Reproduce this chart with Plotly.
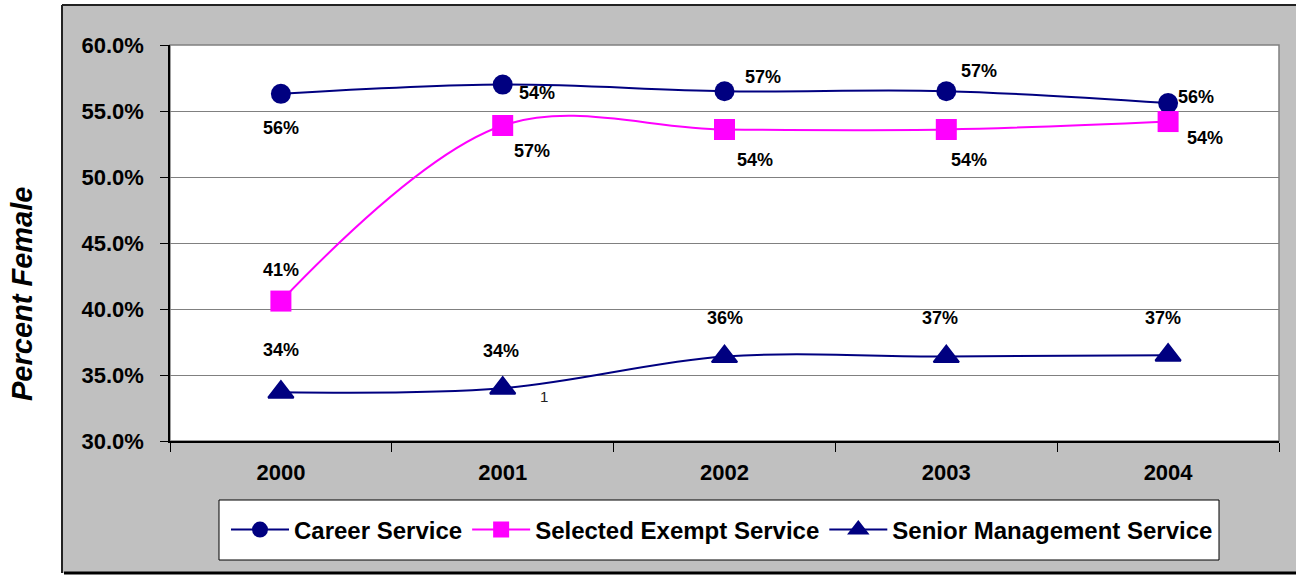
import plotly.graph_objects as go

# ---- data ----
years = ["2000", "2001", "2002", "2003", "2004"]
career = [56.3, 57.0, 56.5, 56.5, 55.6]
exempt = [40.6, 53.9, 53.6, 53.6, 54.2]
senior = [33.7, 34.0, 36.4, 36.4, 36.5]
career_labels = ["56%", "54%", "57%", "57%", "56%"]
exempt_labels = ["41%", "57%", "54%", "54%", "54%"]
senior_labels = ["34%", "34%", "36%", "37%", "37%"]
series_names = ["Career Service", "Selected Exempt Service", "Senior Management Service"]
y_ticks = [30, 35, 40, 45, 50, 55, 60]
y_ticktext = ["30.0%", "35.0%", "40.0%", "45.0%", "50.0%", "55.0%", "60.0%"]

# ---- label offsets (px, right / down) ----
career_off = [(0, 34), (34, 8), (38, -14), (33, -20), (28, -6)]
exempt_off = [(0, -31), (29, 25), (30, 31), (23, 31), (37, 16)]
senior_off = [(0, -42), (-2, -37), (0, -39), (-6, -39), (-5, -37)]

FONT = "Liberation Sans, Arial, sans-serif"
NAVY = "#000080"
MAGENTA = "#FF00FF"

W, H = 1296, 575
L, R, T, B = 170, 17, 45, 134
PW = W - L - R
PH = H - T - B


def px(x):
    return (x - L) / PW


def py(y):
    return (H - B - y) / PH


fig = go.Figure()
series = [
    (series_names[0], career, NAVY, "circle", 20, 0),
    (series_names[1], exempt, MAGENTA, "square", 21, 0),
    (series_names[2], senior, NAVY, "triangle-up", 22, 2),
]
for name, vals, col, sym, sz, lw in series:
    fig.add_trace(go.Scatter(
        x=years, y=vals, name=name, mode="lines+markers",
        line=dict(color=col, width=2, shape="spline", smoothing=1),
        marker=dict(color=col, symbol=sym, size=sz, line=dict(width=lw, color=col)),
        hoverinfo="skip",
    ))

annotations = []
for vals, labels, offs in [(career, career_labels, career_off),
                           (exempt, exempt_labels, exempt_off),
                           (senior, senior_labels, senior_off)]:
    for i, (v, lab, (dx, dy)) in enumerate(zip(vals, labels, offs)):
        annotations.append(dict(
            x=i, y=v, xref="x", yref="y", text=lab, showarrow=False,
            xshift=dx, yshift=-dy, xanchor="center", yanchor="middle",
            font=dict(family=FONT, size=18, color="black", weight="bold"),
        ))
# stray label near 2001 senior point
annotations.append(dict(
    x=1, y=senior[1], xref="x", yref="y", text="1", showarrow=False,
    xshift=41, yshift=-8, xanchor="center", yanchor="middle",
    font=dict(family=FONT, size=15, color="#222"),
))
# y-axis title
annotations.append(dict(
    x=px(22), y=py(294), xref="paper", yref="paper", text="Percent Female",
    showarrow=False, textangle=-90, xanchor="center", yanchor="middle",
    font=dict(family=FONT, size=29, color="black", weight="bold", style="italic"),
))

shapes = [
    # gray chart area
    dict(type="rect", xref="paper", yref="paper", layer="below",
         x0=px(62), x1=px(1300), y0=py(573), y1=py(5),
         fillcolor="#C0C0C0", line=dict(width=0)),
    dict(type="line", xref="paper", yref="paper", layer="below",
         x0=px(62), x1=px(1300), y0=py(5), y1=py(5), line=dict(color="#222", width=2)),
    dict(type="line", xref="paper", yref="paper", layer="below",
         x0=px(62), x1=px(62), y0=py(573), y1=py(5), line=dict(color="#222", width=2)),
    dict(type="line", xref="paper", yref="paper", layer="below",
         x0=px(64), x1=px(1300), y0=py(573), y1=py(573), line=dict(color="black", width=3)),
    # white plot area with gray frame
    dict(type="rect", xref="paper", yref="paper", layer="below",
         x0=0, x1=1, y0=0, y1=1, fillcolor="white", line=dict(color="#808080", width=1.5)),
    # legend box
    dict(type="rect", xref="paper", yref="paper", layer="below",
         x0=px(219), x1=px(1219), y0=py(560), y1=py(500),
         fillcolor="white", line=dict(color="black", width=1)),
]

fig.update_layout(
    width=W, height=H,
    margin=dict(l=L, r=R, t=T, b=B),
    paper_bgcolor="white", plot_bgcolor="white",
    font=dict(family=FONT, color="black"),
    showlegend=True,
    legend=dict(
        orientation="h", x=px(722), xanchor="center", y=py(530), yanchor="middle",
        bgcolor="rgba(0,0,0,0)", borderwidth=0, itemwidth=58,
        font=dict(family=FONT, size=24, color="black", weight="bold"),
    ),
    xaxis=dict(
        type="category", range=[-0.5, 4.5], tickson="boundaries",
        ticks="outside", ticklen=9, tickcolor="black", tickwidth=1,
        showline=True, linecolor="black", linewidth=1.5,
        showgrid=False, zeroline=False, ticklabelstandoff=11,
        tickfont=dict(family=FONT, size=22, color="black", weight="bold"),
    ),
    yaxis=dict(
        range=[30, 60], tickvals=y_ticks, ticktext=y_ticktext,
        ticks="outside", ticklen=8, tickcolor="black", tickwidth=1,
        showline=True, linecolor="black", linewidth=1.5,
        showgrid=True, gridcolor="#808080", gridwidth=1, zeroline=False,
        ticklabelstandoff=12,
        tickfont=dict(family=FONT, size=22, color="black", weight="bold"),
    ),
    annotations=annotations,
    shapes=shapes,
)

fig.write_html("out.html", config={"displayModeBar": False},
               post_script="document.body.style.margin='0px';")
